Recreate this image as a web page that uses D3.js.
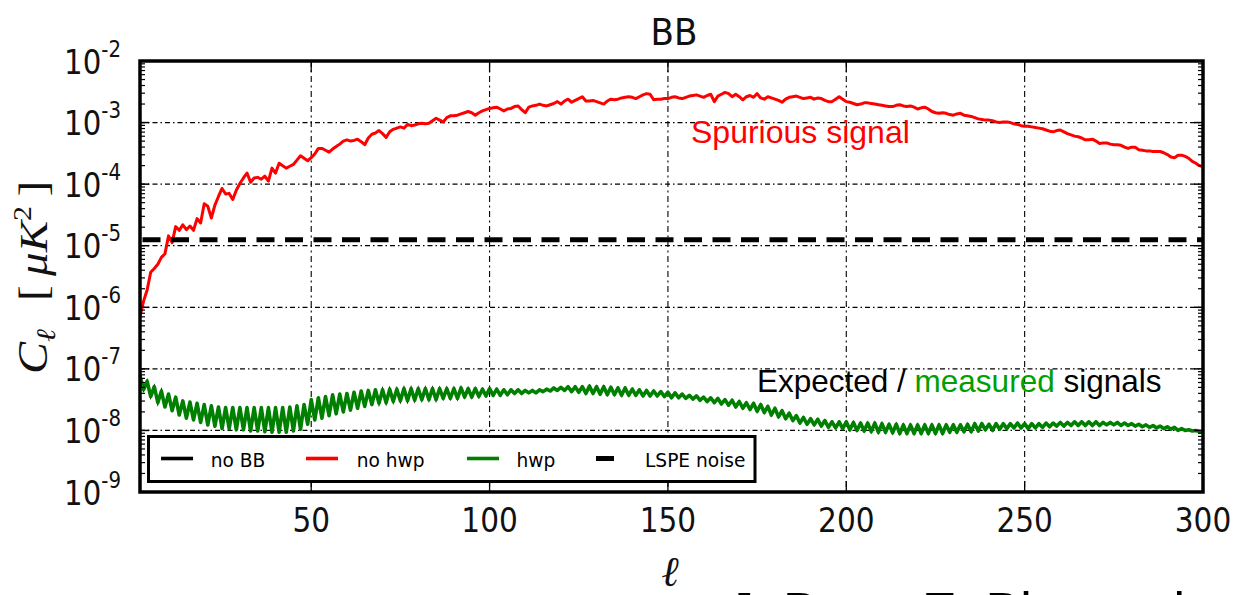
<!DOCTYPE html>
<html>
<head>
<meta charset="utf-8">
<script src="https://cdn.jsdelivr.net/npm/d3@7"></script>
<style>
  html, body { margin: 0; padding: 0; background: #fff; overflow: hidden; }
  svg { display: block; }
</style>
</head>
<body>
<svg id="chart" width="1243" height="595"></svg>
<script>
// Multipoles ℓ = 2 … 300
const multipoles = d3.range(2, 301);

// BB spectrum without half-wave plate (log10 of C_ℓ in μK²), one value per ℓ
const noHwpLog = [
  -6.15,-5.90,-5.72,-5.43,-5.37,-5.30,-5.19,-5.13,
  -4.84,-4.95,-4.69,-4.75,-4.66,-4.74,-4.68,-4.75,-4.56,-4.63,
  -4.32,-4.36,-4.55,-4.34,-4.20,-4.07,-4.16,-4.15,-4.25,-4.10,
  -3.99,-3.90,-3.82,-3.97,-3.90,-3.89,-3.92,-3.87,-3.95,-3.74,
  -3.82,-3.66,-3.70,-3.74,-3.71,-3.68,-3.61,-3.54,-3.58,-3.62,
  -3.57,-3.51,-3.42,-3.42,-3.45,-3.48,-3.43,-3.39,-3.35,-3.30,
  -3.28,-3.30,-3.29,-3.27,-3.31,-3.36,-3.25,-3.19,-3.17,-3.13,
  -3.18,-3.24,-3.15,-3.11,-3.09,-3.07,-3.09,-3.03,-3.05,-3.04,
  -3.02,-3.01,-3.02,-3.01,-2.97,-2.93,-2.96,-2.99,-2.92,-2.89,
  -2.89,-2.88,-2.86,-2.84,-2.82,-2.84,-2.88,-2.84,-2.81,-2.79,
  -2.77,-2.76,-2.75,-2.78,-2.81,-2.78,-2.77,-2.74,-2.73,-2.79,
  -2.84,-2.75,-2.73,-2.72,-2.70,-2.72,-2.73,-2.71,-2.69,-2.66,
  -2.70,-2.65,-2.62,-2.67,-2.64,-2.61,-2.58,-2.65,-2.65,-2.64,
  -2.66,-2.68,-2.70,-2.65,-2.62,-2.63,-2.62,-2.60,-2.59,-2.58,
  -2.59,-2.61,-2.58,-2.55,-2.53,-2.54,-2.63,-2.62,-2.62,-2.61,
  -2.61,-2.59,-2.58,-2.60,-2.61,-2.59,-2.57,-2.56,-2.55,-2.57,
  -2.59,-2.56,-2.54,-2.66,-2.57,-2.54,-2.51,-2.53,-2.58,-2.54,
  -2.58,-2.63,-2.58,-2.56,-2.59,-2.53,-2.60,-2.62,-2.58,-2.60,
  -2.62,-2.64,-2.67,-2.62,-2.59,-2.58,-2.57,-2.59,-2.61,-2.60,
  -2.59,-2.62,-2.60,-2.61,-2.64,-2.66,-2.66,-2.62,-2.58,-2.62,
  -2.66,-2.67,-2.69,-2.71,-2.70,-2.68,-2.68,-2.69,-2.70,-2.71,
  -2.72,-2.73,-2.74,-2.74,-2.72,-2.71,-2.73,-2.74,-2.73,-2.75,
  -2.78,-2.76,-2.75,-2.78,-2.82,-2.84,-2.85,-2.84,-2.85,-2.87,
  -2.88,-2.86,-2.85,-2.88,-2.89,-2.90,-2.92,-2.94,-2.95,-2.96,
  -2.96,-2.97,-2.99,-3.00,-2.99,-2.99,-3.00,-3.02,-3.03,-3.05,
  -3.06,-3.06,-3.07,-3.08,-3.09,-3.10,-3.12,-3.14,-3.15,-3.13,
  -3.12,-3.15,-3.18,-3.20,-3.22,-3.23,-3.25,-3.28,-3.28,-3.27,
  -3.30,-3.34,-3.33,-3.33,-3.35,-3.36,-3.36,-3.37,-3.40,-3.42,
  -3.40,-3.40,-3.44,-3.45,-3.46,-3.46,-3.47,-3.47,-3.47,-3.49,
  -3.52,-3.56,-3.57,-3.53,-3.53,-3.55,-3.58,-3.63,-3.66,-3.70,
  -3.72
];

// BB spectrum with half-wave plate (log10 of C_ℓ in μK²), one value per ℓ
const hwpLog = [
  -7.11,-7.34,-7.20,-7.45,-7.29,-7.55,-7.36,-7.62,
  -7.41,-7.68,-7.46,-7.75,-7.52,-7.80,-7.54,-7.83,-7.56,-7.87,
  -7.58,-7.91,-7.60,-7.93,-7.62,-7.97,-7.63,-7.97,-7.63,-7.99,
  -7.63,-7.99,-7.63,-8.01,-7.63,-8.01,-7.63,-8.02,-7.63,-8.03,
  -7.63,-8.03,-7.63,-8.03,-7.62,-8.01,-7.60,-7.98,-7.58,-7.90,
  -7.50,-7.83,-7.47,-7.80,-7.45,-7.76,-7.42,-7.73,-7.41,-7.70,
  -7.40,-7.67,-7.38,-7.64,-7.36,-7.61,-7.35,-7.58,-7.34,-7.56,
  -7.34,-7.55,-7.33,-7.53,-7.33,-7.52,-7.32,-7.52,-7.32,-7.51,
  -7.32,-7.50,-7.32,-7.50,-7.32,-7.50,-7.32,-7.48,-7.32,-7.48,
  -7.32,-7.48,-7.31,-7.46,-7.32,-7.46,-7.32,-7.45,-7.33,-7.44,
  -7.32,-7.43,-7.33,-7.43,-7.34,-7.42,-7.34,-7.40,-7.34,-7.40,
  -7.35,-7.39,-7.35,-7.39,-7.34,-7.37,-7.33,-7.36,-7.31,-7.35,
  -7.30,-7.35,-7.29,-7.37,-7.29,-7.38,-7.29,-7.40,-7.28,-7.40,
  -7.29,-7.41,-7.29,-7.42,-7.30,-7.42,-7.31,-7.43,-7.31,-7.43,
  -7.33,-7.43,-7.34,-7.44,-7.35,-7.44,-7.36,-7.44,-7.37,-7.45,
  -7.38,-7.47,-7.39,-7.47,-7.41,-7.48,-7.43,-7.49,-7.44,-7.51,
  -7.46,-7.53,-7.47,-7.55,-7.48,-7.57,-7.50,-7.59,-7.51,-7.62,
  -7.53,-7.64,-7.55,-7.66,-7.56,-7.69,-7.58,-7.71,-7.61,-7.75,
  -7.64,-7.78,-7.68,-7.81,-7.72,-7.84,-7.76,-7.88,-7.79,-7.90,
  -7.81,-7.91,-7.82,-7.93,-7.84,-7.95,-7.86,-7.96,-7.86,-7.97,
  -7.86,-7.99,-7.87,-8.00,-7.88,-8.01,-7.88,-8.02,-7.88,-8.03,
  -7.89,-8.03,-7.90,-8.04,-7.90,-8.05,-7.91,-8.05,-7.91,-8.05,
  -7.91,-8.05,-7.91,-8.05,-7.91,-8.05,-7.91,-8.05,-7.91,-8.03,
  -7.91,-8.03,-7.91,-8.02,-7.90,-8.02,-7.89,-8.01,-7.89,-7.99,
  -7.90,-8.00,-7.89,-7.98,-7.89,-7.97,-7.89,-7.96,-7.88,-7.96,
  -7.89,-7.97,-7.89,-7.96,-7.89,-7.95,-7.88,-7.94,-7.88,-7.93,
  -7.87,-7.93,-7.87,-7.92,-7.86,-7.92,-7.86,-7.92,-7.86,-7.92,
  -7.86,-7.92,-7.87,-7.91,-7.87,-7.91,-7.87,-7.92,-7.88,-7.92,
  -7.89,-7.93,-7.90,-7.94,-7.91,-7.95,-7.92,-7.96,-7.93,-7.97,
  -7.94,-7.98,-7.95,-8.00,-7.97,-8.00,-7.99,-8.01,-8.00,-8.02,
  -8.01
];

// Input BB-free sky: recovered exactly by the hwp run, so it lies under the green curve
const noBBLog = hwpLog;

// LSPE noise level (μK²)
const lspeNoise = 1.25e-5;

const xTickValues = [50, 100, 150, 200, 250, 300];
const yTickExponents = [-2, -3, -4, -5, -6, -7, -8, -9];
const legendLabels = ["no BB", "no hwp", "hwp", "LSPE noise"];
const legendColors = ["#000000", "#ff0000", "#008000", "#000000"];

// ---------------------------------------------------------------
const svg = d3.select("#chart");
const plot = { left: 140, right: 1203, top: 61, bottom: 492 };

const x = d3.scaleLinear().domain([2, 300]).range([plot.left, plot.right]);
const y = d3.scaleLog().domain([1e-9, 1e-2]).range([plot.bottom, plot.top]);

svg.append("defs").append("clipPath").attr("id", "plotClip")
  .append("rect")
  .attr("x", plot.left).attr("y", plot.top)
  .attr("width", plot.right - plot.left).attr("height", plot.bottom - plot.top);

// Grid (dash-dot)
const grid = svg.append("g");
yTickExponents.forEach(e => {
  grid.append("line")
    .attr("x1", plot.left).attr("x2", plot.right)
    .attr("y1", y(Math.pow(10, e))).attr("y2", y(Math.pow(10, e)))
    .attr("stroke", "#000").attr("stroke-width", 1.3)
    .attr("stroke-dasharray", "5,3,1.5,3");
});
xTickValues.forEach(v => {
  grid.append("line")
    .attr("x1", x(v)).attr("x2", x(v))
    .attr("y1", plot.top).attr("y2", plot.bottom)
    .attr("stroke", "#000").attr("stroke-width", 1.1)
    .attr("stroke-dasharray", "6,3.6,1.8,3.6");
});

// Curves
const lines = svg.append("g").attr("clip-path", "url(#plotClip)");
const lineGen = d3.line()
  .x((d, i) => x(multipoles[i]))
  .y(d => y(Math.pow(10, d)));

lines.append("path").datum(noBBLog)
  .attr("d", lineGen).attr("fill", "none")
  .attr("stroke", "#000").attr("stroke-width", 2);

lines.append("path").datum(noHwpLog)
  .attr("d", lineGen).attr("fill", "none")
  .attr("stroke", "#ff0000").attr("stroke-width", 3).attr("stroke-linejoin", "round");

lines.append("path").datum(hwpLog)
  .attr("d", lineGen).attr("fill", "none")
  .attr("stroke", "#008000").attr("stroke-width", 3.6).attr("stroke-linejoin", "round");

lines.append("line")
  .attr("x1", plot.left).attr("x2", plot.right)
  .attr("y1", y(lspeNoise)).attr("y2", y(lspeNoise))
  .attr("stroke", "#000").attr("stroke-width", 5)
  .attr("stroke-dasharray", "18,10.5").attr("stroke-dashoffset", 26);

// Ticks (inward), log minor ticks on both vertical sides
const ticks = svg.append("g").attr("stroke", "#000");
yTickExponents.forEach(e => {
  const yy = y(Math.pow(10, e));
  ticks.append("line").attr("x1", plot.left).attr("x2", plot.left + 9).attr("y1", yy).attr("y2", yy).attr("stroke-width", 1.5);
  ticks.append("line").attr("x1", plot.right).attr("x2", plot.right - 9).attr("y1", yy).attr("y2", yy).attr("stroke-width", 1.5);
  if (e > -9) {
    for (let m = 2; m <= 9; m++) {
      const ym = y(m * Math.pow(10, e - 1));
      ticks.append("line").attr("x1", plot.left).attr("x2", plot.left + 5).attr("y1", ym).attr("y2", ym).attr("stroke-width", 1.2);
      ticks.append("line").attr("x1", plot.right).attr("x2", plot.right - 5).attr("y1", ym).attr("y2", ym).attr("stroke-width", 1.2);
    }
  }
});
xTickValues.forEach(v => {
  ticks.append("line").attr("x1", x(v)).attr("x2", x(v)).attr("y1", plot.bottom).attr("y2", plot.bottom - 11).attr("stroke-width", 1.3);
  ticks.append("line").attr("x1", x(v)).attr("x2", x(v)).attr("y1", plot.top).attr("y2", plot.top + 11).attr("stroke-width", 1.3);
});

// Legend
const legend = svg.append("g");
legend.append("rect")
  .attr("x", 148.5).attr("y", 436.5).attr("width", 606.5).attr("height", 45)
  .attr("fill", "#fff").attr("stroke", "#000").attr("stroke-width", 3);
const legendSampleX = [161, 306, 467, 596];
const legendTextX = [210.7, 356.7, 516.4, 645];
legendLabels.forEach((lab, i) => {
  const isNoise = i === 3;
  legend.append("line")
    .attr("x1", legendSampleX[i]).attr("x2", legendSampleX[i] + (isNoise ? 18 : 32))
    .attr("y1", 458.5).attr("y2", 458.5)
    .attr("stroke", legendColors[i]).attr("stroke-width", isNoise ? 5 : 3.6);
  legend.append("g")
    .attr("transform", `translate(${legendTextX[i]},466.5) scale(0.93,1)`)
    .append("text")
    .attr("font-family", "DejaVu Sans").attr("font-size", 20).attr("fill", "#000")
    .text(lab);
});

// Frame
svg.append("rect")
  .attr("x", plot.left).attr("y", plot.top)
  .attr("width", plot.right - plot.left).attr("height", plot.bottom - plot.top)
  .attr("fill", "none").attr("stroke", "#000").attr("stroke-width", 3.5);

// Y tick labels 10^k
yTickExponents.forEach(e => {
  const t = svg.append("g")
    .attr("transform", `translate(121,${y(Math.pow(10, e))}) scale(0.86,1)`)
    .append("text")
    .attr("text-anchor", "end").attr("y", 12.5)
    .attr("font-family", "DejaVu Sans").attr("font-size", 34).attr("fill", "#111");
  t.append("tspan").text("10");
  t.append("tspan").attr("font-size", 23).attr("dy", -17).text(String(e));
});

// X tick labels
xTickValues.forEach(v => {
  svg.append("g")
    .attr("transform", `translate(${x(v)},532) scale(0.87,1)`)
    .append("text")
    .attr("text-anchor", "middle")
    .attr("font-family", "DejaVu Sans").attr("font-size", 34).attr("fill", "#111")
    .text(v);
});

// Title
svg.append("g").attr("transform", "translate(674,45) scale(0.9,1)")
  .append("text").attr("text-anchor", "middle")
  .attr("font-family", "DejaVu Sans").attr("font-size", 38).attr("fill", "#111")
  .text("BB");

// Y axis label: C_ℓ [μK²], rotated, in two runs
const ylC = svg.append("text")
  .attr("transform", "translate(47,374) rotate(-90) scale(1,0.86)")
  .attr("font-family", "Liberation Serif").attr("font-size", 48)
  .attr("font-style", "italic").attr("fill", "#111");
ylC.append("tspan").text("C");
ylC.append("tspan").attr("font-size", 31).attr("dy", 9).text("ℓ");

const ylU = svg.append("text")
  .attr("transform", "translate(47,301) rotate(-90) scale(1,0.86)")
  .attr("font-family", "Liberation Serif").attr("font-size", 47)
  .attr("font-style", "italic").attr("fill", "#111");
ylU.append("tspan").attr("font-style", "normal").text("[\u2009");
ylU.append("tspan").text("μK");
ylU.append("tspan").attr("font-size", 30).attr("dy", -19).attr("font-style", "normal").text("2");
ylU.append("tspan").attr("dy", 19).attr("font-style", "normal").text("\u2009]");

svg.append("text")
  .attr("x", 670).attr("y", 586).attr("text-anchor", "middle")
  .attr("font-family", "Liberation Serif").attr("font-size", 42)
  .attr("font-style", "italic").attr("fill", "#111")
  .text("ℓ");

// Annotations
svg.append("text")
  .attr("x", 691).attr("y", 143)
  .attr("font-family", "Liberation Sans, Arial, sans-serif").attr("font-size", 32)
  .attr("fill", "#ff0000")
  .text("Spurious signal");

const ann = svg.append("text")
  .attr("x", 757).attr("y", 392)
  .attr("font-family", "Liberation Sans, Arial, sans-serif").attr("font-size", 31.5)
  .attr("fill", "#000");
ann.append("tspan").text("Expected / ");
ann.append("tspan").attr("fill", "#00a000").text("measured");
ann.append("tspan").text(" signals");

// Footer credit line (runs off the bottom edge)
svg.append("text").attr("x", 728).attr("y", 629)
  .attr("font-family", "Liberation Sans, Arial, sans-serif").attr("font-size", 52).attr("fill", "#000")
  .text("J. Bruno,");
svg.append("text").attr("x", 922).attr("y", 629)
  .attr("font-family", "Liberation Sans, Arial, sans-serif").attr("font-size", 52).attr("fill", "#000")
  .text("E. Biancotti");
</script>
</body>
</html>
